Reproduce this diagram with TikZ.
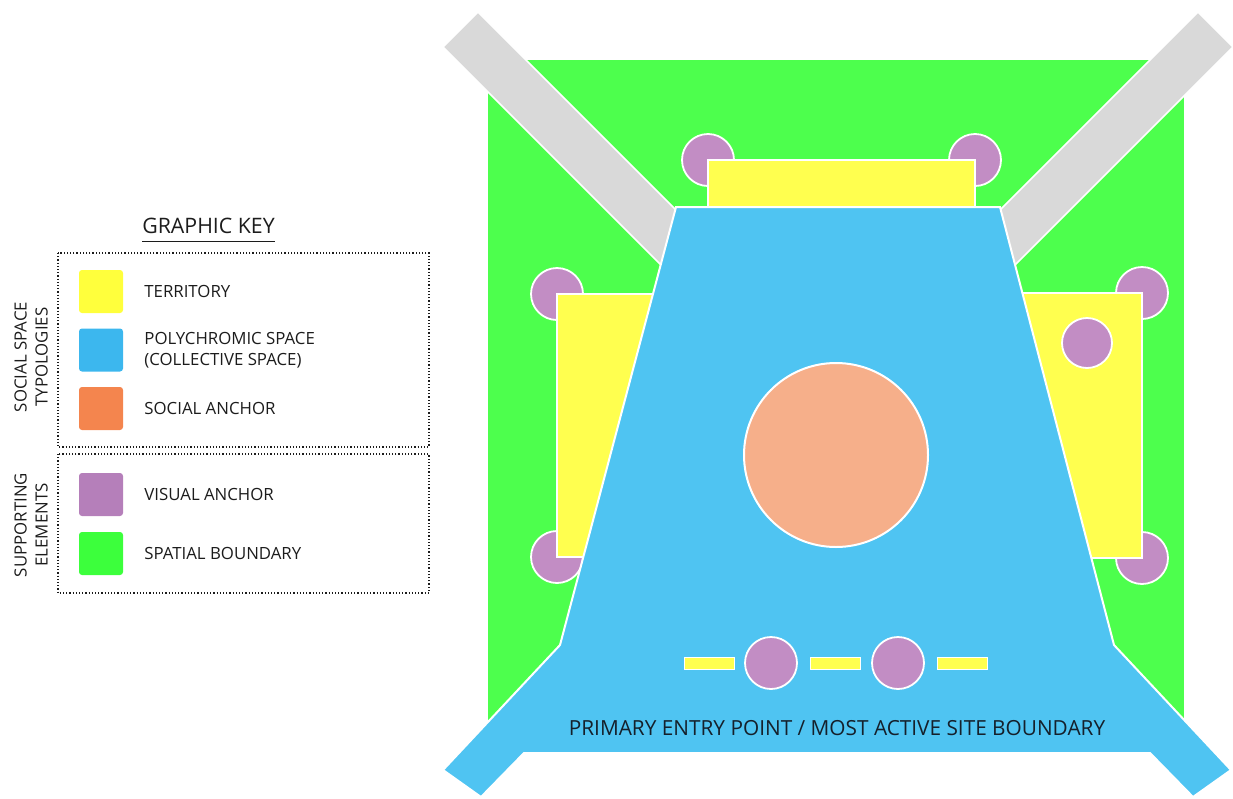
\documentclass[tikz,border=0pt]{standalone}
\usepackage{fontspec}
\setmainfont{Open Sans}
\usetikzlibrary{positioning}

\definecolor{sitegreen}{HTML}{4DFF4D}
\definecolor{walkgrey}{HTML}{D9D9D9}
\definecolor{collectiveblue}{HTML}{4FC4F2}
\definecolor{territoryyellow}{HTML}{FFFF4F}
\definecolor{anchorpurple}{HTML}{C28DC4}
\definecolor{anchororange}{HTML}{F6AF8A}
\definecolor{keyyellow}{HTML}{FFFF3C}
\definecolor{keyblue}{HTML}{3CB7EE}
\definecolor{keyorange}{HTML}{F4854E}
\definecolor{keypurple}{HTML}{B57FBA}
\definecolor{keygreen}{HTML}{3CFF3C}
\definecolor{keyink}{HTML}{1C1C1C}
\definecolor{entryink}{HTML}{15202B}

\begin{document}
\begin{tikzpicture}[x=1pt, y=-1pt,
  edge/.style={draw=white, line width=2pt},
  walkway/.style={fill=walkgrey, draw=white, line width=1.5pt},
  territory/.style={fill=territoryyellow, draw=white, line width=1.5pt},
  anchorpt/.style={fill=anchorpurple, draw=white, line width=1.8pt},
  keyframe/.style={keyink, dotted, line width=1.2pt},
  swatch/.style={minimum width=44pt, minimum height=43pt, rounded corners=3pt, inner sep=0pt},
  keytext/.style={font=\fontsize{16.8}{21}\selectfont, text=keyink, inner sep=0pt, align=left},
  sidetext/.style={rotate=90, align=center, font=\fontsize{16.8}{21}\selectfont, text=keyink, inner sep=0pt}]
  \useasboundingbox (0,0) rectangle (1233,798);

  % site ground
  \fill[sitegreen] (488,60) rectangle (1184,722);
  % approach paths
  \filldraw[walkway] (478,12) -- (700,234) -- (665,269) -- (443,47) -- cycle;
  \filldraw[walkway] (1198,12) -- (976,234) -- (1011,269) -- (1233,47) -- cycle;
  % visual anchors at the territory corners
  \foreach \p in {(708,160),(975,160),(557,294),(557,557),(1142,293),(1142,558)}
    \filldraw[anchorpt] \p circle (26pt);
  % territories
  \filldraw[territory] (708,160) rectangle (975,207);
  \filldraw[territory] (557,294) rectangle (700,557);
  \filldraw[territory] (975,293) rectangle (1142,558);
  % polychromic (collective) space with entry
  \filldraw[fill=collectiveblue, edge] (676,207) -- (1000,207) -- (1114,645)
    -- (1231,770) -- (1193,797) -- (1150,753) -- (524,753) -- (481,797)
    -- (443,770) -- (560,645) -- cycle;
  % social anchor
  \filldraw[fill=anchororange, edge] (836,455) circle (92pt);
  \filldraw[anchorpt] (1087,343) circle (25pt);
  % entry sequence
  \foreach \x in {684,810,937}
    \filldraw[territory, line width=0.8pt] (\x,657) rectangle ++(50,12);
  \foreach \x in {771,898}
    \filldraw[anchorpt] (\x,663) circle (26pt);
  \node[font=\fontsize{20.8}{25}\selectfont, text=entryink, inner sep=0pt] (entry) at (837,728)
    {PRIMARY ENTRY POINT / MOST ACTIVE SITE BOUNDARY};

  % graphic key
  \node[keytext, font=\fontsize{21.3}{24}\selectfont, anchor=base] (keytitle) at (208.5,233) {GRAPHIC KEY};
  \draw[keyink, line width=1pt] ([yshift=-8pt]keytitle.base west) -- ([yshift=-8pt]keytitle.base east);
  \draw[keyframe] (58,253) rectangle (429,447);
  \draw[keyframe] (58,454) rectangle (429,593);
  \foreach \n/\c/\y in {territory/keyyellow/291.5, polychromic/keyblue/350,
      social/keyorange/408.5, visual/keypurple/494.5, boundary/keygreen/553.5}
    \node[swatch, fill=\c] (sw-\n) at (101,\y) {};
  \node[keytext, right=21pt of sw-territory] (lb-territory) {TERRITORY};
  \node[keytext, right=21pt of sw-polychromic] (lb-polychromic) {POLYCHROMIC SPACE\\(COLLECTIVE SPACE)};
  \node[keytext, right=21pt of sw-social] (lb-social) {SOCIAL ANCHOR};
  \node[keytext, right=21pt of sw-visual] (lb-visual) {VISUAL ANCHOR};
  \node[keytext, right=21pt of sw-boundary] (lb-boundary) {SPATIAL BOUNDARY};
  \node[sidetext] (side-social) at (31,357) {SOCIAL SPACE\\TYPOLOGIES};
  \node[sidetext] (side-support) at (31,525) {SUPPORTING\\ELEMENTS};
\end{tikzpicture}
\end{document}
